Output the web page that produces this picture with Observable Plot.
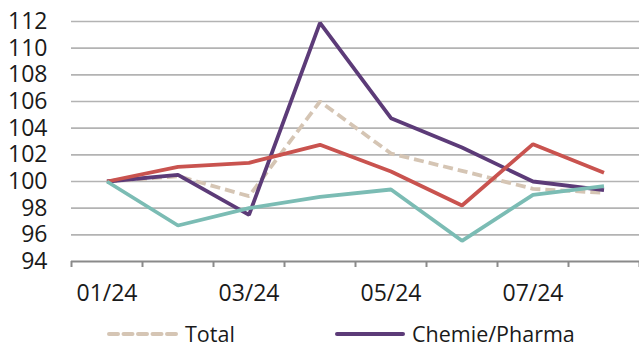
<!DOCTYPE html>
<html>
<head>
<meta charset="utf-8">
<script src="https://cdn.jsdelivr.net/npm/d3@7"></script>
<script src="https://cdn.jsdelivr.net/npm/@observablehq/plot@0.6"></script>
<style>
  body { margin: 0; background: #fff; font-family: "Open Sans", sans-serif; color: #1a1a1a; }
  #chart { width: 639px; }
  .legend { position: relative; height: 31px; font-size: 21.5px; }
  .item { position: absolute; top: 4px; height: 28px; display: flex; align-items: center; }
  .item span { line-height: 24px; }
  .item svg { margin-right: 7px; }
</style>
</head>
<body>
<div id="chart"></div>
<script>
// Monthly index values (01/2024 = 100)
const months = ["01/24", "02/24", "03/24", "04/24", "05/24", "06/24", "07/24", "08/24"];
const labeledMonths = ["01/24", "03/24", "05/24", "07/24"];
const total   = [100, 100.4, 98.9, 106.0, 102.1, 100.8, 99.45, 99.15];
const chemie  = [100, 100.5, 97.5, 111.9, 104.75, 102.55, 100.0, 99.35];
const sparte3 = [100, 101.1, 101.4, 102.75, 100.75, 98.2, 102.8, 100.65];
const sparte4 = [100, 96.7, 98.0, 98.85, 99.4, 95.55, 99.0, 99.65];
const yTicks = [94, 96, 98, 100, 102, 104, 106, 108, 110, 112];

const series = [
  {name: "Total", values: total, color: "#d5c5b4", dash: "10,5"},
  {name: "Chemie/Pharma", values: chemie, color: "#5c3b78", dash: null},
  {name: "Sparte 3", values: sparte3, color: "#c9534f", dash: null},
  {name: "Sparte 4", values: sparte4, color: "#7bbcb4", dash: null}
];

const rows = s => months.map((m, i) => ({month: m, idx: i, value: s.values[i]}));
// band boundaries between months, used for the x tick marks
const boundaries = d3.range(months.length + 1).map(i => i - 0.5);

const plot = Plot.plot({
  width: 639,
  height: 316,
  marginLeft: 71,
  marginRight: 0,
  marginTop: 21,
  marginBottom: 55,
  style: {fontFamily: "Open Sans, sans-serif", fontSize: "23px", color: "#1a1a1a", background: "#fff"},
  x: {type: "linear", domain: [-0.5, months.length - 0.5]},
  y: {domain: [94, 112]},
  marks: [
    Plot.ruleY(yTicks.slice(1), {stroke: "#b3b3b3", strokeWidth: 1.6}),
    Plot.ruleY([94], {stroke: "#8a8a8a", strokeWidth: 2}),
    Plot.axisY({ticks: yTicks, tickSize: 0, tickPadding: 24, label: null, fontSize: 23}),
    Plot.axisX({ticks: boundaries, tickSize: 6, tickFormat: () => "", stroke: "#8a8a8a", strokeWidth: 2, label: null}),
    Plot.axisX({
      ticks: labeledMonths.map(m => months.indexOf(m)),
      tickSize: 0, tickPadding: 23,
      tickFormat: i => months[i], label: null, fontSize: 23
    }),
    ...series.map(s => Plot.lineY(rows(s), {
      x: "idx", y: "value",
      stroke: s.color, strokeWidth: 3.8,
      strokeDasharray: s.dash, strokeLinejoin: "miter", strokeLinecap: "butt"
    }))
  ]
});
document.getElementById("chart").append(plot);

// Legend below the chart
const legend = d3.select("#chart").append("div").attr("class", "legend");
const legendItems = [
  {s: series[0], left: 107, w: 71},
  {s: series[1], left: 335, w: 70}
];
for (const {s, left, w} of legendItems) {
  const item = legend.append("div").attr("class", "item").style("left", left + "px");
  const sw = item.append("svg").attr("width", w).attr("height", 8);
  sw.append("line").attr("x1", 2).attr("x2", w - 2).attr("y1", 4).attr("y2", 4)
    .attr("stroke", s.color).attr("stroke-width", 4)
    .attr("stroke-linecap", "round")
    .attr("stroke-dasharray", s.dash ? "9,5.5" : null);
  item.append("span").text(s.name);
}
</script>
</body>
</html>
